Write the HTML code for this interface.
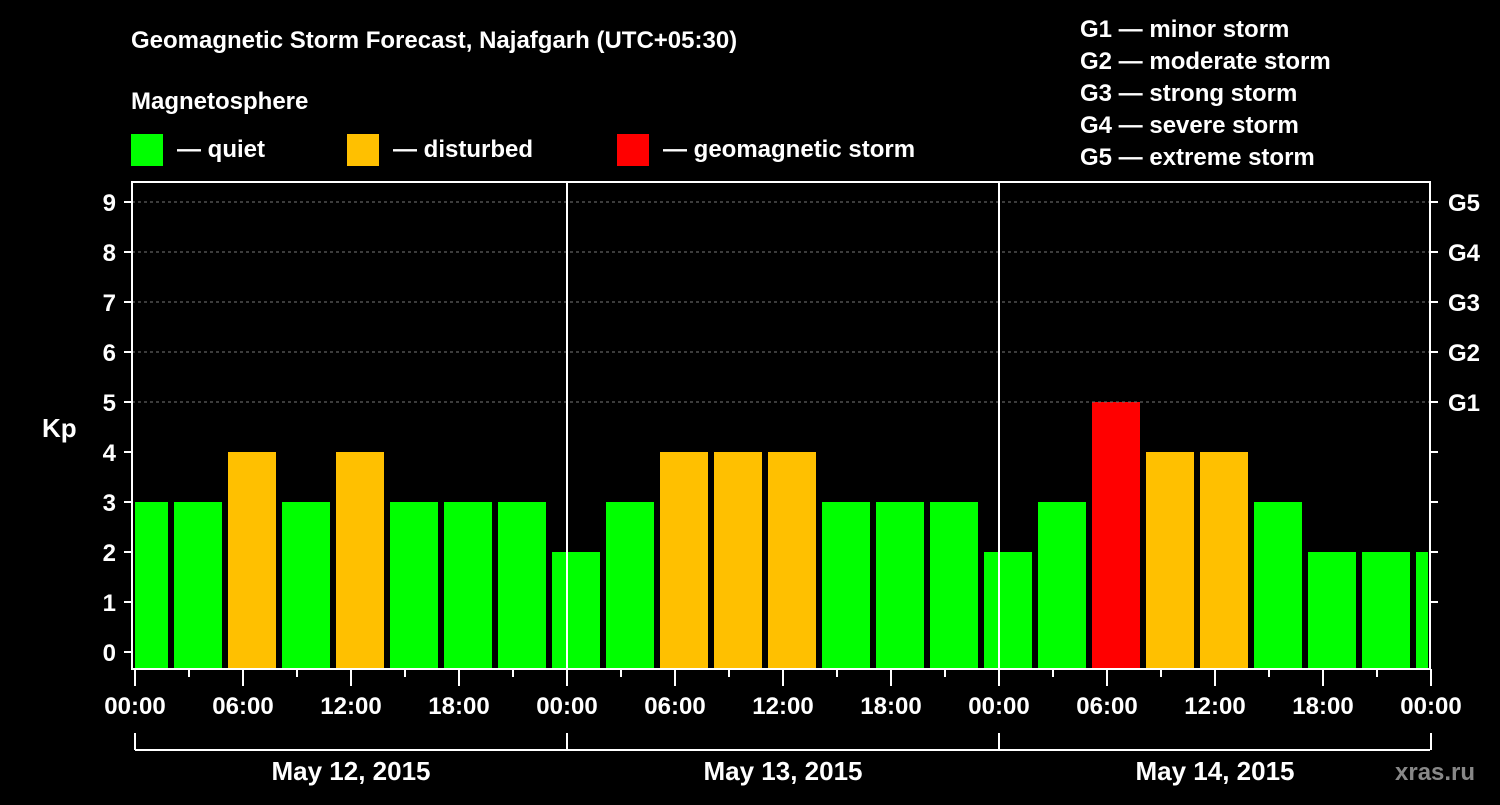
<!DOCTYPE html>
<html><head><meta charset="utf-8"><style>
body{margin:0;background:#000;width:1500px;height:800px;overflow:hidden}
svg text{font-family:"Liberation Sans",sans-serif;font-weight:bold;fill:#fff}
</style></head><body>
<svg id="chart" width="1500" height="800" xmlns="http://www.w3.org/2000/svg">
<text x="131" y="48" font-size="24">Geomagnetic Storm Forecast, Najafgarh (UTC+05:30)</text>
<text x="131" y="109" font-size="24">Magnetosphere</text>
<rect x="131" y="134" width="32" height="32" fill="#00ff00"/>
<text x="177" y="157" font-size="24">— quiet</text>
<rect x="347" y="134" width="32" height="32" fill="#ffc000"/>
<text x="393" y="157" font-size="24">— disturbed</text>
<rect x="617" y="134" width="32" height="32" fill="#ff0000"/>
<text x="663" y="157" font-size="24">— geomagnetic storm</text>
<g font-size="24">
<text x="1080" y="37">G1 — minor storm</text>
<text x="1080" y="69">G2 — moderate storm</text>
<text x="1080" y="101">G3 — strong storm</text>
<text x="1080" y="133">G4 — severe storm</text>
<text x="1080" y="165">G5 — extreme storm</text>
</g>
<text x="42" y="437" font-size="26">Kp</text>
<text x="1395" y="780" font-size="24" style="fill:#888">xras.ru</text>
<g id="bars"></g>
<g id="axes"></g>
</svg>
<script>
const kpValues=[3,3,4,3,4,3,3,3,2,3,4,4,4,3,3,3,2,3,5,4,4,3,2,2,2];
const dayLabels=["May 12, 2015","May 13, 2015","May 14, 2015"];
const yTicks=[0,1,2,3,4,5,6,7,8,9];
const gLabels=["G1","G2","G3","G4","G5"];
const NS="http://www.w3.org/2000/svg";
const X0=135,PXH=18,Y0=652,PXK=50,LEFT=132,RIGHT=1430,TOP=182,BOT=669;
const xs=h=>X0+h*PXH, ys=k=>Y0-k*PXK;
function mk(tag,attrs,parent){const e=document.createElementNS(NS,tag);for(const k in attrs)e.setAttribute(k,attrs[k]);parent.appendChild(e);return e;}
const bars=document.getElementById('bars'),axes=document.getElementById('axes');
kpValues.forEach((v,i)=>{
 let x1=xs(i*3)-15,x2=x1+48;
 x1=Math.max(x1,X0);x2=Math.min(x2,RIGHT-2);
 const col=v>=5?'#ff0000':(v>=4?'#ffc000':'#00ff00');
 const r=mk('rect',{x:x1,y:ys(v),width:x2-x1,height:BOT-ys(v),fill:col},bars);
 
 
});
yTicks.forEach(k=>{
 const y=ys(k);
 if(k>=5){const g=mk('line',{x1:LEFT,x2:RIGHT,y1:y,y2:y,stroke:'#777','stroke-dasharray':'3,3'},axes);}
 mk('line',{x1:124,x2:LEFT,y1:y,y2:y,stroke:'#fff','stroke-width':2},axes);
 if(k>=1)mk('line',{x1:RIGHT,x2:RIGHT+8,y1:y,y2:y,stroke:'#fff','stroke-width':2},axes);
 const t=mk('text',{x:116,y:y+9,'font-size':24,'text-anchor':'end'},axes);t.textContent=k;
 
 
});
gLabels.forEach((g,i)=>{const t=mk('text',{x:1448,y:ys(5+i)+9,'font-size':24},axes);t.textContent=g;
 
 });
mk('rect',{x:LEFT,y:TOP,width:RIGHT-LEFT,height:BOT-TOP,fill:'none',stroke:'#fff','stroke-width':2},axes);
for(let d=1;d<3;d++)mk('line',{x1:xs(24*d),x2:xs(24*d),y1:TOP,y2:BOT,stroke:'#fff','stroke-width':2},axes);
for(let h=0;h<=72;h+=3){const major=h%6==0;mk('line',{x1:xs(h),x2:xs(h),y1:BOT,y2:major?686:677,stroke:'#fff','stroke-width':2},axes);
 if(major){const t=mk('text',{x:xs(h),y:714,'font-size':24,'text-anchor':'middle'},axes);t.textContent=String(h%24).padStart(2,'0')+':00';
 
 }}
mk('line',{x1:X0,x2:RIGHT,y1:750,y2:750,stroke:'#fff','stroke-width':2},axes);
for(let d=0;d<=3;d++)mk('line',{x1:xs(24*d),x2:xs(24*d),y1:733,y2:750,stroke:'#fff','stroke-width':2},axes);
dayLabels.forEach((l,d)=>{const t=mk('text',{x:xs(24*d+12),y:780,'font-size':26,'text-anchor':'middle'},axes);t.textContent=l;
 
 });
</script>
</body></html>
